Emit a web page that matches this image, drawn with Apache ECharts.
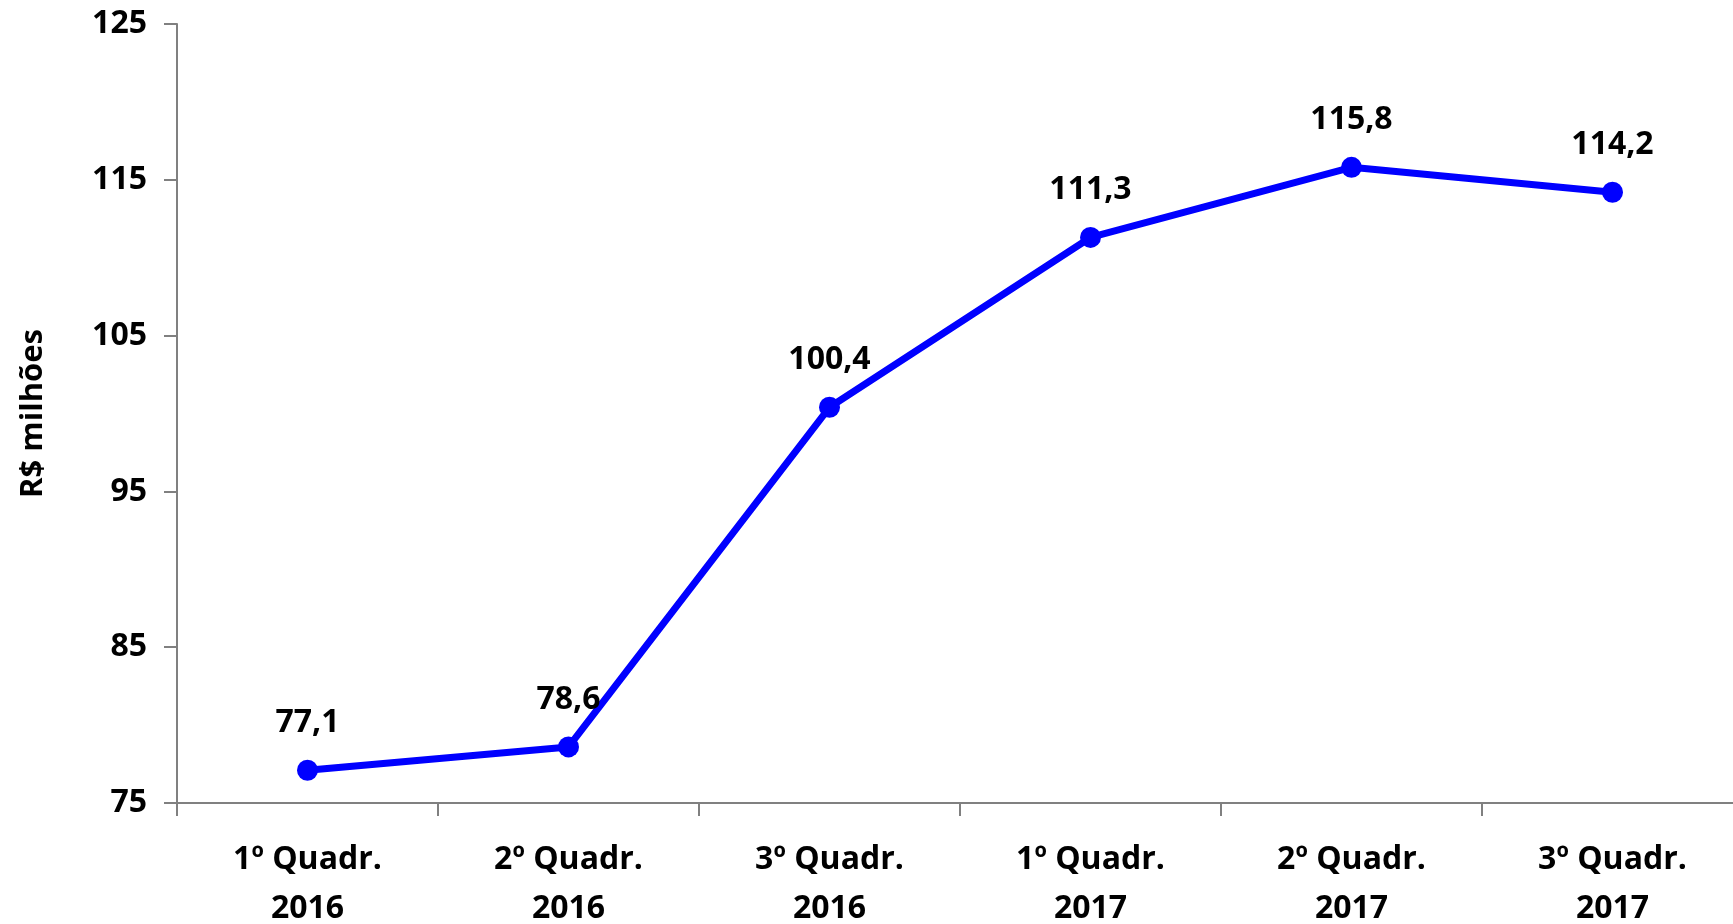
<!DOCTYPE html>
<html>
<head>
<meta charset="utf-8">
<script src="https://cdn.jsdelivr.net/npm/echarts@6/dist/echarts.min.js"></script>
<style>
html,body{margin:0;padding:0;background:#fff;}
#c{width:1733px;height:924px;}
</style>
</head>
<body>
<div id="c"></div>
<script>
const categories = ['1º Quadr.\n2016','2º Quadr.\n2016','3º Quadr.\n2016','1º Quadr.\n2017','2º Quadr.\n2017','3º Quadr.\n2017'];
const values = [77.1, 78.6, 100.4, 111.3, 115.8, 114.2];
const yTicks = {min: 75, max: 125, interval: 10};
const yTitle = 'R$ milhões';

const font = '"Open Sans", "Noto Sans", sans-serif';
const chart = echarts.init(document.getElementById('c'), null, {renderer: 'canvas'});
chart.setOption({
  backgroundColor: '#ffffff',
  animation: false,
  grid: {left: 177, top: 24, bottom: 121, right: -10, containLabel: false, outerBoundsMode: 'none'},
  xAxis: {
    type: 'category',
    data: categories,
    boundaryGap: true,
    axisLine: {lineStyle: {color: '#808080', width: 2}},
    axisTick: {show: true, length: 13, lineStyle: {color: '#808080', width: 2}},
    axisLabel: {
      interval: 0, margin: 32, color: '#000', fontFamily: font, fontWeight: 'bold',
      fontSize: 32, lineHeight: 49
    }
  },
  yAxis: {
    type: 'value',
    min: yTicks.min, max: yTicks.max, interval: yTicks.interval,
    name: yTitle,
    nameLocation: 'middle',
    nameGap: 128,
    nameRotate: 90,
    nameTextStyle: {color: '#000', fontFamily: font, fontWeight: 'bold', fontSize: 31},
    splitLine: {show: false},
    axisLine: {show: true, lineStyle: {color: '#808080', width: 2}},
    axisTick: {show: true, length: 13, lineStyle: {color: '#808080', width: 2}},
    axisLabel: {margin: 30, color: '#000', fontFamily: font, fontWeight: 'bold', fontSize: 32}
  },
  series: [{
    type: 'line',
    data: values,
    symbol: 'circle',
    symbolSize: 21,
    itemStyle: {color: '#0000ff'},
    lineStyle: {color: '#0000ff', width: 7},
    label: {
      show: true, position: 'top', distance: 21,
      color: '#000', fontFamily: font, fontWeight: 'bold', fontSize: 32,
      formatter: p => p.value.toFixed(1).replace('.', ',')
    }
  }]
});
</script>
</body>
</html>
